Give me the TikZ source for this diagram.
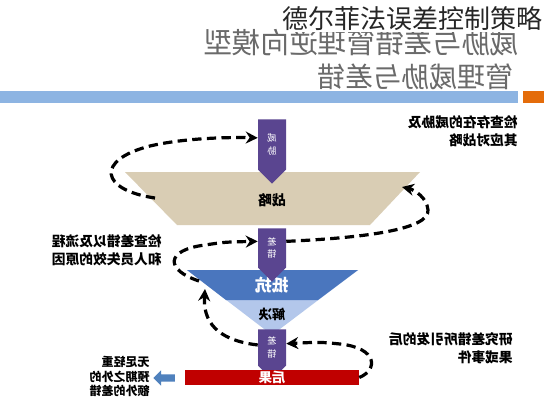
\documentclass[tikz,border=0pt]{standalone}
\usepackage{fontspec}
\setmainfont{Noto Sans CJK SC}
\usetikzlibrary{arrows.meta, positioning, shapes.symbols, shapes.arrows}

\definecolor{barblue}{HTML}{8DB4E2}
\definecolor{barorange}{HTML}{E46C0A}
\definecolor{beige}{HTML}{D9CDB4}
\definecolor{tempurple}{HTML}{5A4590}
\definecolor{darkblue}{HTML}{4A76BE}
\definecolor{lightblue}{HTML}{B3C7EB}
\definecolor{tered}{HTML}{C00000}
\definecolor{arrowblue}{HTML}{4F81BD}
\definecolor{subgray}{HTML}{6A6A6A}

\newcommand{\mirror}[1]{\reflectbox{#1}}
\newcommand{\lines}[1]{\begin{tabular}{@{}l@{}}#1\end{tabular}}

\begin{document}
\begin{tikzpicture}[
    x=0.75pt, y=-0.75pt,
    errarrow/.style={
        signal, signal to=south, signal pointer angle=90,
        fill=tempurple, minimum width=21pt, inner sep=0pt,
        text=white, font=\fontsize{7}{8}\selectfont
    },
    note/.style={
        anchor=east, inner sep=0pt,
        font=\bfseries\fontsize{10.3}{13}\selectfont
    },
    cyclearrow/.style={
        line width=2.4pt, dash pattern=on 7pt off 4pt,
        -{Stealth[length=9pt, width=9pt]}
    }
]
\useasboundingbox (0,0) rectangle (544,400);
\fill[white] (0,0) rectangle (544,400);

% Header
\node[anchor=east, inner sep=0pt, text=subgray, font=\fontsize{21.5}{22}\selectfont] (subA) at (519,43) {\mirror{威胁与差错管理逆向模型}};
\node[anchor=east, inner sep=0pt, text=subgray, font=\fontsize{21}{22}\selectfont] (subB) at (514,77) {\mirror{管理威胁与差错}};
\node[anchor=east, fill=white, inner sep=1pt, text=black!85, font=\fontsize{19.5}{20}\selectfont] (title) at (544,19) {德尔菲法误差控制策略};
\fill[barblue] (0,91) rectangle (518,103);
\fill[barorange] (523,91) rectangle (544,103);

% Strategy
\fill[beige] (125,172) -- (420,172) -- (370,225) -- (177,225) -- cycle;
\node[font=\bfseries\fontsize{10.5}{12}\selectfont] (strategy) at (272,200) {\mirror{战略}};
\coordinate (stratW) at (155,198);
\coordinate (stratE) at (402,187);

% Resist and resolve
\fill[lightblue] (187,270) -- (358,270) -- (272,335) -- cycle;
\fill[darkblue] (187,270) -- (358,270) -- (318,300) -- (226,300) -- cycle;
\node[text=white, font=\bfseries\fontsize{12.5}{14}\selectfont] (resist) at (272,285) {\mirror{抵抗}};
\node[font=\bfseries\fontsize{10}{12}\selectfont] (resolve) at (272,314) {\mirror{解决}};
\coordinate (triW) at (199,281);
\coordinate (triWlow) at (205,289);

% Threats and errors
\node[errarrow, minimum height=41.25pt] (threat) at (272,144.5) {\mirror{\shortstack{威\\胁}}};
\node[errarrow, minimum height=33pt] (error) at (272,248) {\mirror{\shortstack{差\\错}}};
\node[errarrow, minimum height=30.75pt] (slip) at (272,347.5) {\mirror{\shortstack{差\\错}}};

% Outcome
\node[fill=tered, minimum width=130.5pt, minimum height=11.25pt, inner sep=0pt,
    text=white, font=\bfseries\fontsize{10}{11}\selectfont] (outcome) at (272,377.5) {\mirror{后果}};
\node[single arrow, shape border rotate=180, fill=arrowblue, inner sep=2.6pt,
    single arrow head extend=3pt, minimum height=16pt] (minor) at (166,378) {};

% Notes
\node[note] (threatnote) at (518,133) {\mirror{\lines{检查存在的威胁及\\其应对战略}}};
\node[note] (errornote) at (162,252) {\mirror{\lines{检查差错以及流程\\和人员失效的原因}}};
\node[note] (outcomenote) at (513,350) {\mirror{\lines{研究差错所引发的后\\果或事件}}};
\node[note, font=\bfseries\fontsize{9}{9.8}\selectfont] (minornote) at (150,378) {\mirror{\lines{无足轻重\\预期之外的\\额外的差错}}};

% Loops
\draw[cyclearrow] (stratW) .. controls (100,190) and (95,160) .. (150,146)
    .. controls (180,139) and (220,137) .. (threat.155);
\draw[cyclearrow] (error.25) .. controls (360,238) and (430,230) .. (428,210)
    .. controls (427,198) and (415,190) .. (stratE);
\draw[cyclearrow] (triW) .. controls (165,270) and (165,250) .. (205,245)
    .. controls (225,242) .. (error.155);
\draw[cyclearrow] (slip.170) .. controls (215,340) and (203,320) .. (triWlow);
\draw[cyclearrow] (outcome.east) .. controls (378,370) and (378,348) .. (340,344)
    .. controls (320,342) .. (slip.15);
\end{tikzpicture}
\end{document}
